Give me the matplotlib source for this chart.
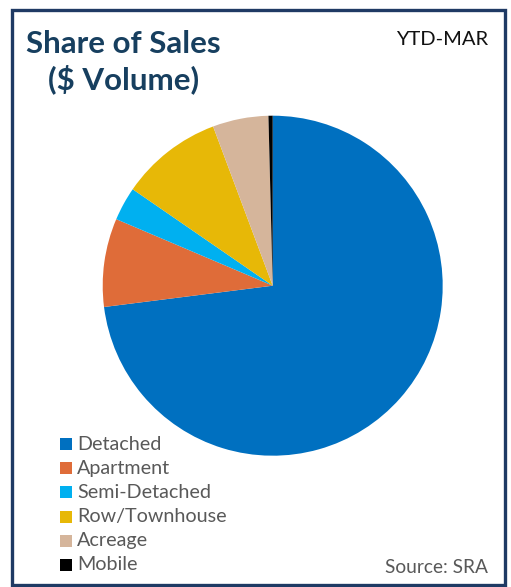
import matplotlib
matplotlib.use("Agg")
import matplotlib.pyplot as plt
from matplotlib.patches import Rectangle

categories = ["Detached", "Apartment", "Semi-Detached", "Row/Townhouse", "Acreage", "Mobile"]
shares = [73.0, 8.4, 3.2, 9.7, 5.3, 0.4]
colors = ["#0070C0", "#DF6C39", "#00B0F0", "#E7B807", "#D5B59B", "#000000"]
title_lines = ["Share of Sales", "($ Volume)"]
period_label = "YTD-MAR"
source_label = "Source: SRA"

W, H = 511, 587
fig = plt.figure(figsize=(W / 100, H / 100), dpi=100)
plt.rcParams['font.family'] = ['Lato', 'DejaVu Sans']

# background axes in pixel coords (y down)
bg = fig.add_axes([0, 0, 1, 1])
bg.set_xlim(0, W)
bg.set_ylim(H, 0)
bg.axis("off")
bg.add_patch(Rectangle((12, 9.5), 492.5, 575, fill=False, edgecolor="#1F3A64", linewidth=2.4))

# pie
cx, cy, r = 272.7, 285.7, 170
pax = fig.add_axes([(cx - r) / W, (H - cy - r) / H, 2 * r / W, 2 * r / H])
pax.pie(shares, colors=colors, startangle=90, counterclock=False, radius=1,
        wedgeprops=dict(linewidth=0))
pax.set_xlim(-1, 1)
pax.set_ylim(-1, 1)
pax.set_aspect("equal")
pax.axis("off")

title_color = "#173F5F"
bg.text(123.5, 53, title_lines[0], fontsize=22.5, fontweight="bold", color=title_color,
        ha="center", va="baseline")
bg.text(124, 89, title_lines[1], fontsize=22.5, fontweight="bold", color=title_color,
        ha="center", va="baseline")
bg.text(488, 45, period_label, fontsize=14.5, color="#111111", ha="right", va="baseline")

# legend
y0, dy = 444, 24.2
for i, (lab, col) in enumerate(zip(categories, colors)):
    y = y0 + i * dy
    bg.add_patch(Rectangle((60, y - 6), 12, 12, facecolor=col, edgecolor="none"))
    bg.text(77, y, lab, fontsize=14.2, color="#595959", ha="left", va="center")

bg.text(488, 573, source_label, fontsize=13.8, color="#595959", ha="right", va="baseline")

fig.savefig("out.png", dpi=100)
